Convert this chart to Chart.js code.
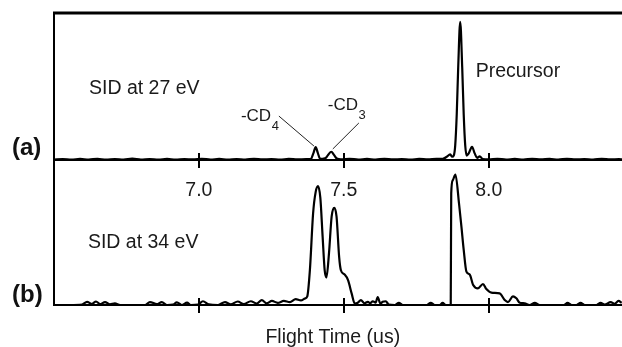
<!DOCTYPE html>
<html>
<head>
<meta charset="utf-8">
<script src="https://cdn.jsdelivr.net/npm/chart.js@4/dist/chart.umd.min.js"></script>
<style>
  html, body { margin: 0; padding: 0; background: #ffffff; }
  #wrap { width: 622px; height: 347px; position: relative; }
</style>
</head>
<body>
<div id="wrap"><canvas id="c"></canvas></div>
<script>
// ---- Data ----
// Panel (a): SID at 27 eV  (flight time in us, relative intensity)
const timeA = [6.50,6.53,6.56,6.59,6.62,6.65,6.68,6.71,6.74,6.77,6.80,6.83,6.86,6.89,6.92,6.95,6.98,7.01,7.04,7.07,7.10,7.13,7.16,7.19,7.22,7.25,7.28,7.31,7.34,7.37,
  7.386,7.395,7.403,7.410,7.417,7.424,7.431,7.438,7.447,7.457,7.466,7.476,7.49,7.52,7.55,7.58,7.61,7.64,7.67,7.70,7.73,7.76,7.79,7.82,
  7.8414,7.8552,7.8672,7.8741,7.8793,7.8845,7.8897,7.8948,7.9017,7.9086,7.9138,7.9190,7.9241,7.9310,7.9424,7.9517,7.9603,7.9690,7.9793,
  8.00,8.03,8.06,8.09,8.12,8.15,8.18,8.21,8.24,8.27,8.30,8.33,8.36,8.39,8.42,8.45,8.46];
const sigA = [0.3,0.6,0.2,0.7,0.3,0.8,0.2,0.6,0.3,0.9,0.3,0.6,0.2,0.7,0.3,0.6,0.4,0.8,0.3,0.7,0.2,0.6,0.3,0.8,0.4,0.6,0.3,0.7,0.4,0.6,
  0.6,4.5,8.8,5.0,1.2,0.8,1.0,1.4,3.8,5.6,3.5,1.0,0.5,0.8,0.3,0.7,0.3,0.8,0.4,0.6,0.3,0.7,0.4,0.8,
  0.8,2.2,3.8,2.2,3.0,10,31,63,94,63,31,10,3.0,4.5,9.0,4.5,1.5,2.5,0.6,
  0.4,0.8,0.3,0.7,0.3,0.8,0.4,0.7,0.3,0.8,0.4,0.6,0.3,0.8,0.4,0.6,0.4];

// Panel (b): SID at 34 eV
const timeB = [6.500,6.555,6.597,6.614,6.631,6.645,6.659,6.676,6.693,6.710,6.728,6.814,6.831,6.855,6.872,6.890,6.910,6.924,6.941,6.959,6.972,
  6.997,7.014,7.034,7.066,7.090,7.110,7.134,7.155,7.179,7.200,7.217,7.234,7.252,7.272,7.293,7.314,7.334,7.352,7.366,
  7.374,7.383,7.394,7.403,7.411,7.419,7.427,7.434,7.440,7.449,7.458,7.467,7.475,7.484,7.490,7.503,7.515,7.527,7.538,
  7.548,7.559,7.571,7.583,7.591,7.600,7.610,7.617,7.626,7.634,7.645,7.655,7.676,7.690,7.703,7.786,7.800,7.814,7.831,7.841,7.852,
  7.869,7.8707,7.8759,7.8853,7.8976,7.9059,7.9138,7.9231,7.9345,7.9459,7.9631,7.9803,7.9920,8.0093,8.0379,8.0552,8.0666,8.0838,8.0955,8.1069,8.1241,8.141,
  8.159,8.176,8.259,8.272,8.286,8.303,8.317,8.331,8.372,8.386,8.400,8.421,8.434,8.448,8.459];
const sigB = [0,0,0.3,2.2,0.8,2.4,0.6,2.0,0.5,1.2,0,0,2.0,0.6,2.0,0,0.2,1.8,0,1.6,0,
  0.3,2.6,0.4,0,2.0,0.5,2.4,0.6,2.6,1.0,3.4,1.2,2.8,1.5,2.8,2.0,4.0,3.2,4.5,
  6,24,63,78,82,74,47,24,19,36,61,67,61,33,24,21,17,8,1,
  1.5,3.4,1.2,2.2,1.2,2.6,1.6,5.5,1.0,2.2,2.6,0.3,0,1.5,0,0,1.5,0,0,1.5,0,
  0,77,86,90,70,54,38,23,21,14,11.5,14.5,11,8.5,8,3.5,2,6,4.6,1.6,1.2,0,
  1.4,0,0,1.4,0,0,1.4,0,0,1.4,0.3,2.0,0.8,2.8,1.5];

const tickValues = [7.0, 7.5, 8.0];
const xMin = 6.5, xMax = 8.46;
const xTitle = 'Flight Time (us)';

// ---- Styling / annotations ----
const FONT = "'Liberation Sans', Arial, Helvetica, sans-serif";
const TEXT = '#1a1a1a';

const toPts = (ts, vs) => ts.map((t, i) => ({ x: t, y: vs[i] }));

const notes = [
  { axis: 'ya', x: 6.6207, y: 48.6, text: 'SID at 27 eV', size: 19.5 },
  { axis: 'yb', x: 6.617, y: 42.8, text: 'SID at 34 eV', size: 19.5 },
  { axis: 'ya', x: 7.955, y: 60.2, text: 'Precursor', size: 19.5 },
  { axis: 'ya', x: 7.145, y: 29.9, text: '-CD', sub: '4', size: 17 },
  { axis: 'ya', x: 7.4448, y: 37.1, text: '-CD', sub: '3', size: 17 }
];
const leaders = [
  { axis: 'ya', x1: 7.276, y1: 29.9, x2: 7.397, y2: 9.5 },
  { axis: 'ya', x1: 7.552, y1: 25.2, x2: 7.462, y2: 7.5 }
];
const panelLabels = [
  { axis: 'ya', y: 8.2, text: '(a)' },
  { axis: 'yb', y: 6.9, text: '(b)' }
];
const titlePos = { x: 7.462, drop: 33 };

const decor = {
  id: 'decor',
  afterDraw(chart) {
    const ctx = chart.ctx;
    const ca = chart.chartArea;
    const sx = chart.scales.x;
    ctx.save();
    ctx.strokeStyle = '#000';
    // top frame line
    ctx.lineWidth = 3;
    ctx.beginPath();
    ctx.moveTo(ca.left - 1, ca.top);
    ctx.lineTo(ca.right, ca.top);
    ctx.stroke();
    // crossing tick marks on both baselines
    ctx.lineWidth = 2;
    ['ya', 'yb'].forEach(id => {
      const base = chart.scales[id].getPixelForValue(0);
      tickValues.forEach(v => {
        const px = Math.round(sx.getPixelForValue(v));
        ctx.beginPath();
        ctx.moveTo(px, base - 7);
        ctx.lineTo(px, base + 8);
        ctx.stroke();
      });
    });
    // leader lines
    ctx.lineWidth = 1;
    ctx.strokeStyle = '#222';
    leaders.forEach(l => {
      const sy = chart.scales[l.axis];
      ctx.beginPath();
      ctx.moveTo(sx.getPixelForValue(l.x1), sy.getPixelForValue(l.y1));
      ctx.lineTo(sx.getPixelForValue(l.x2), sy.getPixelForValue(l.y2));
      ctx.stroke();
    });
    // text notes
    ctx.fillStyle = TEXT;
    ctx.textAlign = 'left';
    ctx.textBaseline = 'middle';
    notes.forEach(n => {
      const sy = chart.scales[n.axis];
      const px = sx.getPixelForValue(n.x);
      const py = sy.getPixelForValue(n.y);
      ctx.font = n.size + 'px ' + FONT;
      ctx.fillText(n.text, px, py);
      if (n.sub) {
        const w = ctx.measureText(n.text).width;
        ctx.font = '13px ' + FONT;
        ctx.fillText(n.sub, px + w + 0.5, py + 10);
      }
    });
    // x axis title
    ctx.font = '19.5px ' + FONT;
    ctx.textAlign = 'center';
    ctx.fillText(xTitle, sx.getPixelForValue(titlePos.x), ca.bottom + titlePos.drop);
    // panel labels
    ctx.textAlign = 'left';
    ctx.font = 'bold 24px ' + FONT;
    ctx.fillStyle = '#111';
    panelLabels.forEach(p => {
      const py = chart.scales[p.axis].getPixelForValue(p.y);
      ctx.fillText(p.text, ca.left - 42, py);
    });
    ctx.restore();
  }
};

const hiddenY = (weight) => ({
  type: 'linear',
  position: 'left',
  stack: 'panels',
  stackWeight: weight,
  min: 0,
  max: 100,
  ticks: { display: false },
  grid: { display: false, drawTicks: false },
  border: { display: true, color: '#000', width: 2 }
});

new Chart(document.getElementById('c'), {
  type: 'line',
  data: {
    datasets: [
      {
        label: 'SID at 27 eV',
        data: toPts(timeA, sigA),
        xAxisID: 'xa',
        yAxisID: 'ya',
        borderColor: '#000',
        borderWidth: 2.2,
        pointRadius: 0,
        cubicInterpolationMode: 'monotone',
        fill: false
      },
      {
        label: 'SID at 34 eV',
        data: toPts(timeB, sigB),
        xAxisID: 'x',
        yAxisID: 'yb',
        borderColor: '#000',
        borderWidth: 2.2,
        pointRadius: 0,
        cubicInterpolationMode: 'monotone',
        fill: false
      }
    ]
  },
  options: {
    responsive: true,
    maintainAspectRatio: false,
    devicePixelRatio: 1,
    animation: false,
    events: [],
    layout: { padding: { left: 54, top: 13, right: 0, bottom: 42 } },
    plugins: { legend: { display: false }, tooltip: { enabled: false } },
    scales: {
      yb: hiddenY(145),
      ya: hiddenY(147),
      x: {
        type: 'linear',
        position: 'bottom',
        min: xMin,
        max: xMax,
        ticks: { display: false },
        grid: { display: false, drawTicks: false },
        border: { display: true, color: '#000', width: 2 },
        title: { display: false, text: xTitle }
      },
      xa: {
        type: 'linear',
        position: { ya: 0 },
        min: xMin,
        max: xMax,
        afterBuildTicks: (scale) => { scale.ticks = tickValues.map(v => ({ value: v })); },
        ticks: {
          color: TEXT,
          font: { family: FONT, size: 19.5 },
          padding: 19,
          maxRotation: 0,
          callback: (v) => Number(v).toFixed(1)
        },
        grid: { display: false, drawTicks: false },
        border: { display: true, color: '#000', width: 2 }
      }
    }
  },
  plugins: [decor]
});
</script>
</body>
</html>
